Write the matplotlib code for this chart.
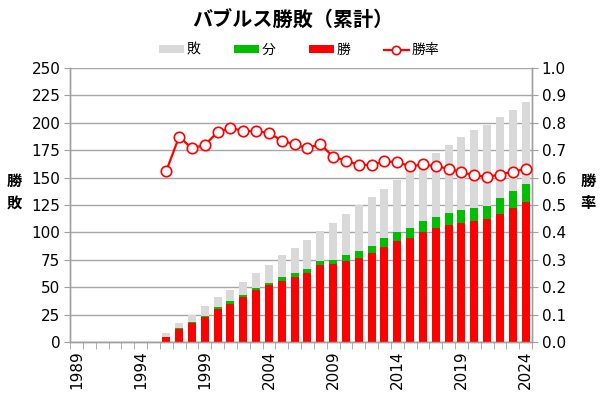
import matplotlib
matplotlib.use("Agg")
import matplotlib.pyplot as plt
from matplotlib.ticker import FixedLocator, FormatStrFormatter

plt.rcParams['font.family'] = ['DejaVu Sans', 'Noto Sans CJK JP']
JP = ['Noto Sans CJK JP', 'DejaVu Sans']

years = list(range(1989, 2025))

# cumulative record, first season 1996
first_year = 1996
wins = [5, 12, 17, 23, 30, 35, 41, 47, 52, 56, 59, 63, 70, 71, 74, 77, 81,
        87, 92, 95, 100, 104, 107, 109, 110, 112, 117, 122, 128]
draws = [0, 1, 1, 1, 2, 2, 2, 2, 2, 3, 4, 4, 4, 4, 5, 6, 7,
         8, 8, 9, 10, 10, 11, 11, 12, 12, 14, 16, 16]
losses = [3, 4, 7, 9, 9, 10, 12, 14, 16, 20, 23, 26, 27, 34, 38, 42, 44,
          45, 48, 53, 54, 58, 62, 67, 71, 74, 74, 74, 75]
win_rate = [0.624, 0.749, 0.707, 0.719, 0.766, 0.781, 0.771, 0.769, 0.763,
            0.735, 0.721, 0.707, 0.723, 0.676, 0.662, 0.646, 0.647, 0.659,
            0.657, 0.641, 0.648, 0.641, 0.633, 0.620, 0.608, 0.603, 0.611,
            0.622, 0.631]

RED = '#ff0000'
GREEN = '#00bf00'
GRAY = '#d9d9d9'
AXIS = '#a0a0a0'

fig = plt.figure(figsize=(6.0, 3.99), dpi=100)
ax = fig.add_axes([70 / 600, 57 / 399, 462 / 600, 274 / 399])
ax2 = ax.twinx()

x = [years.index(first_year) + i for i in range(len(wins))]
bottom_d = wins
bottom_l = [w + d for w, d in zip(wins, draws)]

ax.bar(x, wins, width=0.62, color=RED, label='勝', zorder=3)
ax.bar(x, draws, width=0.62, bottom=bottom_d, color=GREEN, label='分', zorder=3)
ax.bar(x, losses, width=0.62, bottom=bottom_l, color=GRAY, label='敗', zorder=3)

ax2.plot(x, win_rate, color=RED, lw=1.6, marker='o', ms=7.5,
         mfc='white', mec=RED, mew=1.2, label='勝率', zorder=4)

ax.set_xlim(-0.5, len(years) - 0.5)
ax.set_ylim(0, 250)
ax2.set_ylim(0, 1.0)
ax.set_yticks(range(0, 251, 25))
ax2.set_yticks([i / 10 for i in range(11)])
ax2.yaxis.set_major_formatter(FormatStrFormatter('%.1f'))

lab_idx = [i for i, y in enumerate(years) if (y - 1989) % 5 == 0]
ax.set_xticks(lab_idx)
ax.set_xticklabels([str(years[i]) for i in lab_idx], rotation=90)
ax.xaxis.set_minor_locator(FixedLocator([i - 0.5 for i in range(len(years) + 1)]))
ax.tick_params(axis='x', which='major', length=0, pad=6, labelsize=11)
ax.tick_params(axis='x', which='minor', length=5, color=AXIS, direction='out')
ax.tick_params(axis='y', length=4, color=AXIS, labelsize=11, pad=3)
ax2.tick_params(axis='y', length=4, color=AXIS, labelsize=11, pad=3)

ax.yaxis.grid(True, color='#a6a6a6', lw=1.0, zorder=0)
ax.set_axisbelow(True)
for a in (ax, ax2):
    a.spines['top'].set_visible(False)
    for s in ('left', 'right', 'bottom'):
        a.spines[s].set_color(AXIS)
        a.spines[s].set_linewidth(1.0)
ax.set_zorder(ax2.get_zorder() - 1)
ax2.patch.set_visible(False)
ax.patch.set_visible(True)

fig.text(293 / 600, 1 - 20 / 399, 'バブルス勝敗（累計）', ha='center', va='center',
         fontsize=14.5, fontweight='bold', family=JP)
fig.text(14 / 600, 1 - 192 / 399, '勝\n敗', ha='center', va='center',
         fontsize=11, fontweight='bold', family=JP, linespacing=1.5)
fig.text(588 / 600, 1 - 192 / 399, '勝\n率', ha='center', va='center',
         fontsize=11, fontweight='bold', family=JP, linespacing=1.5)

h1, l1 = ax.get_legend_handles_labels()
h2, l2 = ax2.get_legend_handles_labels()
order = [2, 1, 0]
handles = [h1[i] for i in order] + h2
labels = [l1[i] for i in order] + l2
leg = fig.legend(handles, labels, loc='center', bbox_to_anchor=(0.498, 1 - 50 / 399),
                 ncol=4, frameon=False, handlelength=1.8, handleheight=0.5,
                 columnspacing=2.4, handletextpad=0.2, markerscale=0.8,
                 prop={'family': JP, 'size': 10})

fig.savefig('out.png', dpi=100)
